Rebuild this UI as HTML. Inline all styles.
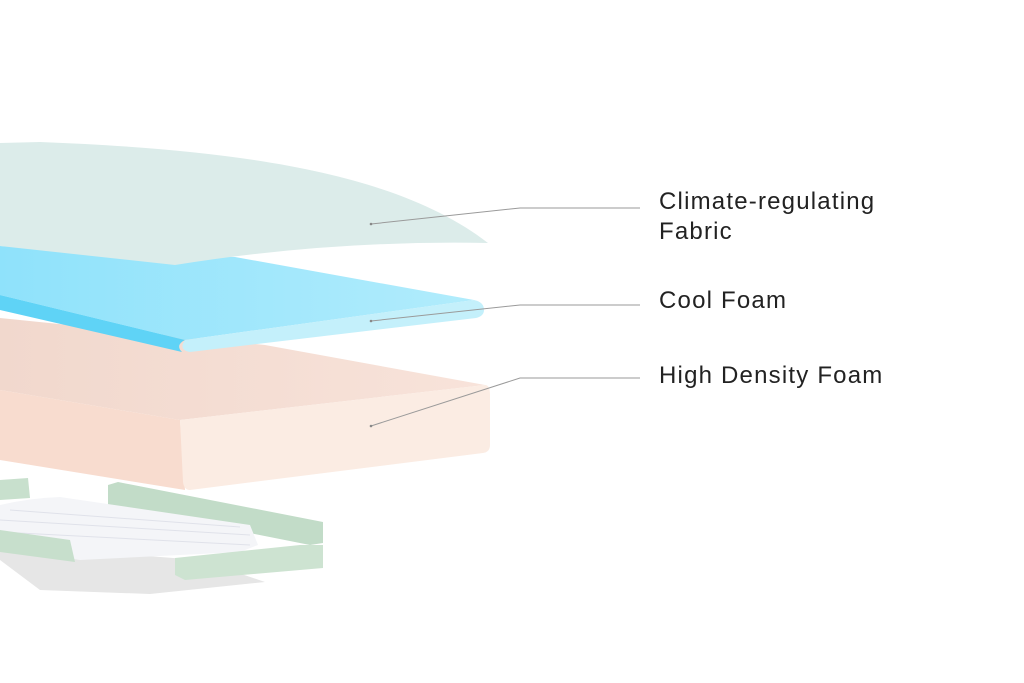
<!DOCTYPE html>
<html><head><style>
html,body{margin:0;padding:0;background:#fff;}
.w{position:relative;width:1024px;height:683px;overflow:hidden;background:#fff;}
.t{position:absolute;left:659px;font-family:"Liberation Sans",sans-serif;font-size:24px;color:#222;letter-spacing:1.2px;line-height:30px;}
</style></head><body><div class="w">
<svg width="1024" height="683" style="position:absolute;left:0;top:0">
<defs>
<linearGradient id="bt" x1="0" y1="0" x2="1" y2="0"><stop offset="0" stop-color="#8fe2fb"/><stop offset="1" stop-color="#b1ecfc"/></linearGradient>
<linearGradient id="pt" x1="0" y1="0" x2="1" y2="0"><stop offset="0" stop-color="#f1d8cd"/><stop offset="1" stop-color="#f8e3da"/></linearGradient>
</defs>
<polygon points="0,560 40,590 150,594 265,582 200,560 0,545" fill="#e6e6e6"/>
<polygon points="0,480 28,478 30,498 0,500" fill="#c8e0cd"/>
<polygon points="108,485 118,482 323,522 323,543 310,545 108,505" fill="#c2dcc8"/>
<path d="M0,505 Q30,498 60,497 L250,525 L258,545 L240,552 L80,560 L0,548 Z" fill="#f4f5f8"/>
<g stroke="#e0e2ea" stroke-width="1">
<line x1="0" y1="520" x2="250" y2="535"/><line x1="0" y1="532" x2="250" y2="545"/><line x1="10" y1="510" x2="240" y2="527"/>
</g>
<polygon points="0,530 70,540 75,562 0,552" fill="#c7dfcc"/>
<polygon points="175,558 300,545 323,545 323,568 185,580 175,575" fill="#cde3d1"/>
<polygon points="0,318 265,345 485,385 180,420 0,390" fill="url(#pt)"/>
<polygon points="0,390 180,420 185,490 0,460" fill="#f8dccf"/>
<path d="M180,420 L485,385 Q490,385 490,395 L490,445 Q490,452 483,453 L190,490 Q184,490 183,482 Z" fill="#fbece3"/>
<polygon points="0,246 235,257 474,300 185,340 0,295" fill="url(#bt)"/>
<path d="M0,295 L185,340 Q175,345 182,352 L0,310 Z" fill="#5fd3f6"/>
<path d="M185,340 L474,300 Q484,302 484,310 Q484,316 476,318 L190,352 Q178,350 185,340 Z" fill="#c4f0fb"/>
<path d="M0,143 L40,142 C250,150 400,175 488,243 Q330,240 175,265 L0,246 Z" fill="#dcecea"/>
<g stroke="#9a9a9a" stroke-width="1" fill="none">
<polyline points="371,224 520,208 640,208"/>
<polyline points="371,321 520,305 640,305"/>
<polyline points="371,426 520,378 640,378"/>
</g>
<g fill="#888"><circle cx="371" cy="224" r="1.3"/><circle cx="371" cy="321" r="1.3"/><circle cx="371" cy="426" r="1.3"/></g>
</svg>
<div class="t" style="top:187px">Climate-regulating<br>Fabric</div>
<div class="t" style="top:286px">Cool Foam</div>
<div class="t" style="top:361px">High Density Foam</div>
</div></body></html>
